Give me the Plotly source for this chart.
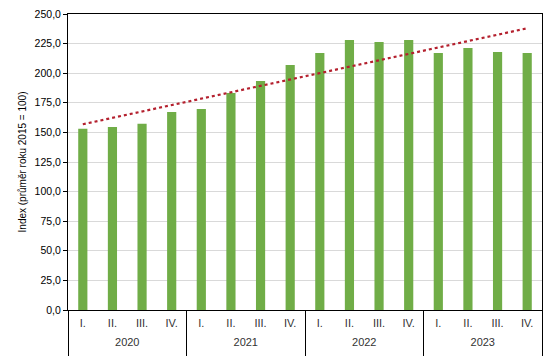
import numpy as np
import plotly.graph_objects as go

years = ["2020"] * 4 + ["2021"] * 4 + ["2022"] * 4 + ["2023"] * 4
quarters = ["I.", "II.", "III.", "IV."] * 4
values = [153.0, 154.6, 157.3, 167.2, 169.8, 183.3, 193.4, 206.9,
          217.1, 228.0, 226.4, 228.0, 217.1, 221.3, 217.9, 217.1]

idx = np.arange(len(values))
slope, intercept = np.polyfit(idx, values, 1)
trend = list(slope * idx + intercept)

# labels drawn at 11px; a tiny second line under each label pushes the
# next row (and the group dividers) further down
big = "<span style='font-size:11px'>{}</span>"
spacer = "<br><span style='font-size:1px'>&nbsp;</span>"
quarter_labels = [big.format(q) + spacer for q in quarters]
year_labels = [big.format(y) + spacer for y in years]

fig = go.Figure()
fig.add_trace(go.Bar(x=[year_labels, quarter_labels], y=values, marker_color="#70AD47",
                     marker_line_width=0, showlegend=False))
fig.add_trace(go.Scatter(x=[year_labels, quarter_labels], y=trend, mode="lines",
                         line=dict(color="#B4202E", width=2.2, dash="dot"),
                         showlegend=False))

# page body has an 8px default margin, so the figure is sized to fit inside it
fig.update_layout(
    width=549, height=348,
    margin=dict(l=60, r=15, t=6, b=46, autoexpand=False),
    paper_bgcolor="white", plot_bgcolor="white",
    font=dict(family="Liberation Sans, Arial", size=10, color="#000"),
    separators=", ",
    bargap=0.69,
)
fig.update_yaxes(range=[0, 250], dtick=25, tickformat=".1f", automargin=False,
                 ticklabeloverflow="allow",
                 showgrid=True, gridcolor="#D9D9D9", gridwidth=1,
                 showline=True, linecolor="black", linewidth=1, mirror=True,
                 ticks="outside", ticklen=4, tickcolor="black",
                 zeroline=False, tickfont=dict(size=10.5),
                 title=dict(text="Index (průměr roku 2015 = 100)", font=dict(size=10), standoff=6))
fig.update_xaxes(showline=True, linecolor="black", linewidth=1, mirror=True,
                 ticks="", showdividers=True, dividercolor="black", dividerwidth=1,
                 automargin=False, ticklabelstandoff=5,
                 tickfont=dict(size=9, color="#333"))

fig.write_html("out.html")
